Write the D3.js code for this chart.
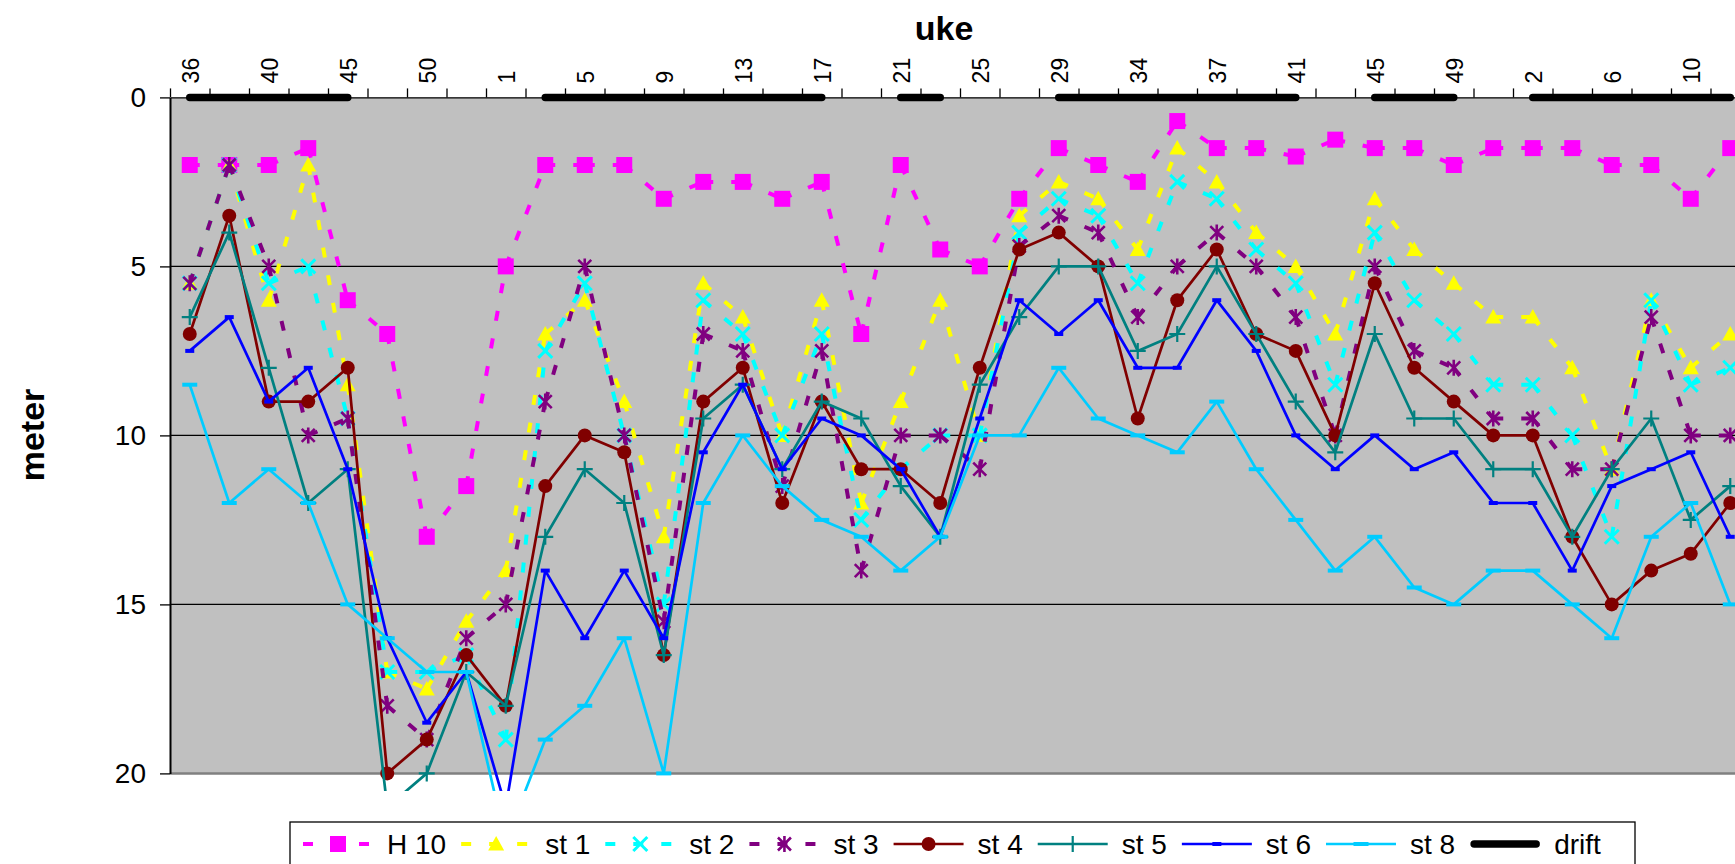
<!DOCTYPE html>
<html><head><meta charset="utf-8">
<script src="https://cdn.jsdelivr.net/npm/d3@7"></script>
<style>body{margin:0;background:#fff;overflow:hidden} svg{display:block;font-family:"Liberation Sans",Arial,sans-serif;}</style>
</head><body><svg id="c" width="1735" height="864"></svg>
<script>
// ---- data ----
const weeks = [36,38,40,42,45,47,50,52,1,3,5,7,9,11,13,15,17,19,21,23,25,27,29,32,34,36,37,39,41,43,45,47,49,51,2,4,6,8,10,12];
const yTicks = [0,5,10,15,20];
const H10 = [2,2,2,1.5,6,7,13,11.5,5,2,2,2,3,2.5,2.5,3,2.5,7,2,4.5,5,3,1.5,2,2.5,0.7,1.5,1.5,1.75,1.25,1.5,1.5,2,1.5,1.5,1.5,2,2,3,1.5];
const st1 = [5.5,2,6,2,8.5,17,17.5,15.5,14,7,6,9,13,5.5,6.5,10,6,12,9,6,10,3.5,2.5,3,4.5,1.5,2.5,4,5,7,3,4.5,5.5,6.5,6.5,8,11,6,8,7];
const st2 = [5.5,2,5.5,5,9.5,17,17,16.5,19,7.5,5.5,10,15,6,7,10,7,12.5,11,10,10,4,3,3.5,5.5,2.5,3,4.5,5.5,8.5,4,6,7,8.5,8.5,10,13,6,8.5,8];
const st3 = [5.5,2,5,10,9.5,18,19,16,15,9,5,10,15.5,7,7.5,11.5,7.5,14,10,10,11,4.4,3.5,4,6.5,5,4,5,6.5,10,5,7.5,8,9.5,9.5,11,11,6.5,10,10];
const st4 = [7,3.5,9,9,8,20,19,16.5,18,11.5,10,10.5,16.5,9,8,12,9,11,11,12,8,4.5,4,5,9.5,6,4.5,7,7.5,10,5.5,8,9,10,10,13,15,14,13.5,12];
const st5 = [6.5,4,8,12,11,21,20,17,18,13,11,12,16.5,9.5,8.5,11,9,9.5,11.5,13,8.5,6.5,5,5,7.5,7,5,7,9,10.5,7,9.5,9.5,11,11,13,11,9.5,12.5,11.5];
const st6 = [7.5,6.5,9,8,11,16,18.5,17,21,14,16,14,16,10.5,8.5,11,9.5,10,11,13,9.5,6,7,6,8,8,6,7.5,10,11,10,11,10.5,12,12,14,11.5,11,10.5,13];
const st8 = [8.5,12,11,12,15,16,17,17,22,19,18,16,20,12,10,11.5,12.5,13,14,13,10,10,8,9.5,10,10.5,9,11,12.5,14,13,14.5,15,14,14,15,16,13,12,15];
const drift = [0,0,0,0,0,null,null,null,null,0,0,0,0,0,0,0,0,null,0,0,null,null,0,0,0,0,0,0,0,null,0,0,0,null,0,0,0,0,0,0];

const series = [
  {name:'H 10', data:H10, color:'#FF00FF', dash:true,  marker:'square'},
  {name:'st 1', data:st1, color:'#FFFF00', dash:true,  marker:'triangle'},
  {name:'st 2', data:st2, color:'#00FFFF', dash:true,  marker:'x'},
  {name:'st 3', data:st3, color:'#800080', dash:true,  marker:'star'},
  {name:'st 4', data:st4, color:'#800000', dash:false, marker:'circle'},
  {name:'st 5', data:st5, color:'#008080', dash:false, marker:'plus'},
  {name:'st 6', data:st6, color:'#0000FF', dash:false, marker:'shortdash'},
  {name:'st 8', data:st8, color:'#00CCFF', dash:false, marker:'dash'}
];

// ---- layout ----
const L = 170, R = 1750, T = 97.4, B = 773.4;
const svg = d3.select('#c');
const idx = d3.range(weeks.length);
const x = d3.scalePoint().domain(idx).range([L, R]).padding(0.5);
const xb = d3.scaleLinear().domain([0, weeks.length]).range([L, R]);
const y = d3.scaleLinear().domain([0, 20]).range([T, B]);

svg.append('rect').attr('x', L).attr('y', T).attr('width', R - L).attr('height', B - T).attr('fill', '#C0C0C0');

svg.append('g').selectAll('line').data(yTicks.filter(v => v > 0 && v < 20)).join('line')
  .attr('x1', L).attr('x2', R).attr('y1', d => y(d)).attr('y2', d => y(d))
  .attr('stroke', '#000').attr('stroke-width', 1.3);
svg.append('line').attr('x1', L).attr('x2', R).attr('y1', B).attr('y2', B).attr('stroke', '#808080').attr('stroke-width', 2.5);

// left axis
const gy = svg.append('g').attr('transform', `translate(${L},0)`)
  .call(d3.axisLeft(y).tickValues(yTicks).tickSize(10).tickSizeOuter(0).tickPadding(14));
gy.select('.domain').attr('stroke', '#000').attr('stroke-width', 2);
gy.selectAll('.tick line').attr('stroke', '#000').attr('stroke-width', 1.3);
gy.selectAll('text').attr('font-size', 28).attr('fill', '#000').attr('font-family', '"Liberation Sans",Arial,sans-serif');

// top axis: boundary ticks
const gt = svg.append('g').attr('transform', `translate(0,${T})`)
  .call(d3.axisTop(xb).tickValues(d3.range(0, weeks.length + 1)).tickFormat('').tickSize(9).tickSizeOuter(0));
gt.select('.domain').attr('stroke', '#000').attr('stroke-width', 1.3);
gt.selectAll('.tick line').attr('stroke', '#000').attr('stroke-width', 1.3);
// labels
const gl = svg.append('g').attr('transform', `translate(0,${T})`)
  .call(d3.axisTop(x).tickValues(idx.filter(i => i % 2 === 0)).tickFormat(i => weeks[i]).tickSize(0));
gl.select('.domain').remove();
gl.selectAll('text').attr('transform', 'rotate(-90)').attr('x', 14).attr('y', 0).attr('dy', '0.36em')
  .style('text-anchor', 'start').attr('font-size', 23).attr('fill', '#000')
  .attr('font-family', '"Liberation Sans",Arial,sans-serif');

// titles
svg.append('text').attr('x', 944).attr('y', 40).attr('text-anchor', 'middle')
  .attr('font-weight', 'bold').attr('font-size', 34).text('uke');
svg.append('text').attr('transform', 'translate(44,435) rotate(-90)').attr('text-anchor', 'middle')
  .attr('font-weight', 'bold').attr('font-size', 34).text('meter');

// clip
svg.append('clipPath').attr('id', 'clip').append('rect').attr('x', L - 20).attr('y', 0).attr('width', R - L + 40).attr('height', 791);

const DASH = '10,18';
function drawMarker(g, type, color, cx, cy) {
  switch (type) {
    case 'square': g.append('rect').attr('x', cx - 8).attr('y', cy - 8).attr('width', 16).attr('height', 16).attr('fill', color); break;
    case 'triangle': g.append('path').attr('d', `M${cx},${cy - 8}L${cx + 8},${cy + 6.5}L${cx - 8},${cy + 6.5}Z`).attr('fill', color); break;
    case 'x': g.append('path').attr('d', `M${cx - 7},${cy - 7}L${cx + 7},${cy + 7}M${cx - 7},${cy + 7}L${cx + 7},${cy - 7}`).attr('stroke', color).attr('stroke-width', 3); break;
    case 'star': g.append('path').attr('d', `M${cx - 6.5},${cy - 6.5}L${cx + 6.5},${cy + 6.5}M${cx - 6.5},${cy + 6.5}L${cx + 6.5},${cy - 6.5}M${cx},${cy - 8}L${cx},${cy + 8}`).attr('stroke', color).attr('stroke-width', 2.6); break;
    case 'circle': g.append('circle').attr('cx', cx).attr('cy', cy).attr('r', 7).attr('fill', color); break;
    case 'plus': g.append('path').attr('d', `M${cx - 8},${cy}L${cx + 8},${cy}M${cx},${cy - 8}L${cx},${cy + 8}`).attr('stroke', color).attr('stroke-width', 2.2); break;
    case 'shortdash': g.append('rect').attr('x', cx - 4.5).attr('y', cy - 2).attr('width', 9).attr('height', 4).attr('fill', color); break;
    case 'dash': g.append('rect').attr('x', cx - 7.5).attr('y', cy - 2).attr('width', 15).attr('height', 4).attr('fill', color); break;
  }
}

const plot = svg.append('g').attr('clip-path', 'url(#clip)');
series.forEach(s => {
  const g = plot.append('g');
  const pts = s.data.map((v, i) => [x(i), y(v)]);
  if (s.dash) {
    // Excel restarts the dash pattern on every segment
    const segs = d3.pairs(pts);
    g.selectAll('path.seg').data(segs).join('path').attr('class', 'seg')
      .attr('d', d => d3.line()(d)).attr('fill', 'none').attr('stroke', s.color)
      .attr('stroke-width', 4).attr('stroke-dasharray', DASH);
  } else {
    g.append('path').attr('d', d3.line()(pts)).attr('fill', 'none').attr('stroke', s.color).attr('stroke-width', 2.7).attr('stroke-linejoin', 'round');
  }
  pts.forEach(p => drawMarker(g, s.marker, s.color, p[0], p[1]));
});

// drift
svg.append('path').attr('d', d3.line().defined(d => d != null).x((d, i) => x(i)).y(d => y(d))(drift))
  .attr('fill', 'none').attr('stroke', '#000').attr('stroke-width', 7.5).attr('stroke-linecap', 'round');

// legend
const lg = svg.append('g');
lg.append('rect').attr('x', 290).attr('y', 822).attr('width', 1345).attr('height', 60).attr('fill', '#fff').attr('stroke', '#000').attr('stroke-width', 1.3);
const entries = series.concat([{name: 'drift', drift: true}]);
let cx = 303; const ly = 844, SL = 70;
entries.forEach(s => {
  const g = lg.append('g');
  if (s.drift) {
    g.append('line').attr('x1', cx + 4).attr('x2', cx + SL - 4).attr('y1', ly).attr('y2', ly).attr('stroke', '#000').attr('stroke-width', 7.5).attr('stroke-linecap', 'round');
  } else {
    g.append('line').attr('x1', cx).attr('x2', cx + SL).attr('y1', ly).attr('y2', ly).attr('stroke', s.color)
      .attr('stroke-width', s.dash ? 4 : 2.7).attr('stroke-dasharray', s.dash ? DASH : null);
    drawMarker(g, s.marker, s.color, cx + SL / 2, ly);
  }
  const t = g.append('text').attr('x', cx + SL + 14).attr('y', ly).attr('dy', '0.35em').attr('font-size', 28).text(s.name);
  cx += SL + 14 + t.node().getComputedTextLength() + 15;
});
</script></body></html>
